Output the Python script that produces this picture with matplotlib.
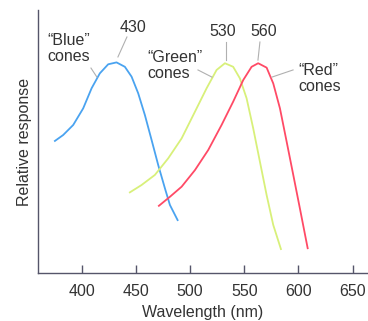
#!/usr/bin/env python3
import matplotlib
matplotlib.use("Agg")
import matplotlib.pyplot as plt

plt.rcParams['font.family'] = ['Liberation Sans', 'DejaVu Sans']

# wavelengths (nm) and relative response
blue_nm = [375.1, 382.7, 392.0, 401.2, 409.0, 416.6, 424.3, 432.0, 439.7,
           445.9, 452.0, 458.2, 464.4, 470.5, 476.7, 481.3, 488.4]
blue_r = [0.629, 0.657, 0.705, 0.784, 0.880, 0.951, 0.994, 1.003, 0.982,
          0.935, 0.856, 0.752, 0.633, 0.514, 0.403, 0.324, 0.252]

green_nm = [444.3, 455.1, 467.4, 479.7, 492.1, 504.4, 515.2, 524.4, 532.1,
            539.7, 545.9, 552.1, 558.2, 564.4, 570.6, 576.7, 583.8]
green_r = [0.384, 0.419, 0.467, 0.546, 0.641, 0.768, 0.880, 0.967, 0.999,
           0.982, 0.927, 0.832, 0.689, 0.530, 0.371, 0.229, 0.114]

red_nm = [471.1, 481.3, 492.1, 504.4, 516.7, 529.0, 539.7, 549.0, 556.7,
          562.8, 570.6, 576.7, 582.9, 589.1, 595.2, 601.3, 608.5]
red_r = [0.320, 0.363, 0.411, 0.490, 0.586, 0.705, 0.816, 0.919, 0.982,
         0.999, 0.978, 0.903, 0.784, 0.625, 0.467, 0.308, 0.118]

xticks = [400, 450, 500, 550, 600, 650]

fig = plt.figure(figsize=(3.68, 3.21), dpi=100)
ax = fig.add_axes([0.103, 0.1495, 0.897, 0.819])

ax.plot(blue_nm, blue_r, color='#4aa3f0', lw=1.3, solid_joinstyle='round')
ax.plot(green_nm, green_r, color='#d8f07a', lw=1.3, solid_joinstyle='round')
ax.plot(red_nm, red_r, color='#ff4a66', lw=1.3, solid_joinstyle='round')

ax.set_xlim(359.4, 664.2)
ax.set_ylim(0, 1.252)

for s in ['top', 'right']:
    ax.spines[s].set_visible(False)
for s in ['left', 'bottom']:
    ax.spines[s].set_color('#55556a')
    ax.spines[s].set_linewidth(1.0)

ax.set_xticks(xticks)
ax.set_yticks([])
ax.tick_params(axis='x', direction='in', length=6, width=1, color='#55556a',
               labelsize=11.5, labelcolor='#333333', pad=8)
ax.set_xlabel('Wavelength (nm)', fontsize=11.5, color='#333333', labelpad=4)
ax.set_ylabel('Relative response', fontsize=11.5, color='#333333', labelpad=4)

txt = dict(fontsize=11.5, color='#333333')
gray = '#b0b0b0'

# peak labels
ax.text(447, 1.167, '430', ha='center', va='center', **txt)
ax.plot([441.6, 433.3], [1.124, 1.029], color=gray, lw=0.8)
ax.text(530.3, 1.152, '530', ha='center', va='center', **txt)
ax.plot([533.0, 533.0], [1.100, 1.014], color=gray, lw=0.8)
ax.text(568.1, 1.152, '560', ha='center', va='center', **txt)
ax.plot([564.4, 562.6], [1.100, 1.014], color=gray, lw=0.8)

# cone labels
ax.text(368.6, 1.143, '\u201cBlue\u201d\ncones', ha='left', va='top', linespacing=1.1, **txt)
ax.plot([408.4, 413.9], [0.976, 0.933], color=gray, lw=0.8)
ax.text(460.1, 1.062, '\u201cGreen\u201d\ncones', ha='left', va='top', linespacing=1.1, **txt)
ax.plot([507.2, 520.1], [0.967, 0.933], color=gray, lw=0.8)
ax.text(599.5, 1.0, '\u201cRed\u201d\ncones', ha='left', va='top', linespacing=1.1, **txt)
ax.plot([575.5, 595.0], [0.933, 0.967], color=gray, lw=0.8)

fig.savefig('out.png', dpi=100)
